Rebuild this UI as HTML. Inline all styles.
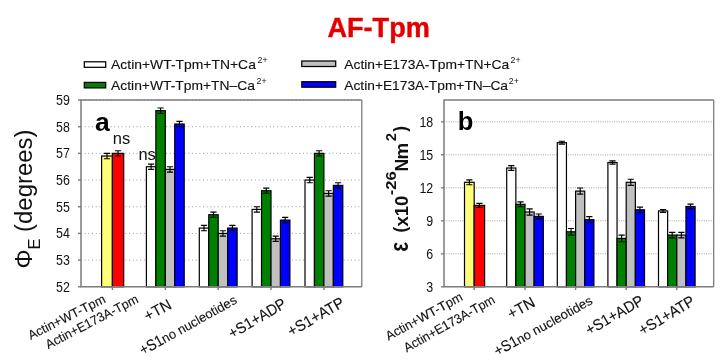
<!DOCTYPE html>
<html><head><meta charset="utf-8"><title>AF-Tpm</title>
<style>html,body{margin:0;padding:0;background:#fff}svg{display:block}text{font-family:'Liberation Sans', sans-serif;fill:#111}.m{stroke:#111;stroke-width:.13px}</style>
</head><body>
<svg width="725" height="362" viewBox="0 0 725 362">
<rect width="725" height="362" fill="#fff"/>
<text x="327.4" y="36.6" font-size="27" font-weight="bold" style="fill:#e40000;stroke:#e40000;stroke-width:.4px" textLength="102.5" lengthAdjust="spacingAndGlyphs">AF-Tpm</text>
<rect x="84.3" y="61.8" width="21.4" height="5.5" fill="#ffffff" stroke="#000" stroke-width="1.25"/>
<text class="m" x="111.1" y="69.0" font-size="12.8" textLength="144.8" lengthAdjust="spacingAndGlyphs">Actin+WT-Tpm+TN+Ca</text>
<text x="257.6" y="63.4" font-size="9" textLength="10" lengthAdjust="spacingAndGlyphs">2+</text>
<rect x="84.3" y="82.4" width="21.4" height="5.5" fill="#008000" stroke="#000" stroke-width="1.25"/>
<text class="m" x="111.1" y="89.8" font-size="12.8" textLength="143.8" lengthAdjust="spacingAndGlyphs">Actin+WT-Tpm+TN–Ca</text>
<text x="256.6" y="84.2" font-size="9" textLength="10" lengthAdjust="spacingAndGlyphs">2+</text>
<rect x="301.8" y="61.0" width="33.9" height="5.5" fill="#c0c0c0" stroke="#000" stroke-width="1.25"/>
<text class="m" x="344.3" y="69.0" font-size="12.8" textLength="165" lengthAdjust="spacingAndGlyphs">Actin+E173A-Tpm+TN+Ca</text>
<text x="510.6" y="63.4" font-size="9" textLength="10" lengthAdjust="spacingAndGlyphs">2+</text>
<rect x="301.8" y="81.7" width="33.9" height="5.5" fill="#0000ff" stroke="#000" stroke-width="1.25"/>
<text class="m" x="344.3" y="89.8" font-size="12.8" textLength="163.7" lengthAdjust="spacingAndGlyphs">Actin+E173A-Tpm+TN–Ca</text>
<text x="508.8" y="84.2" font-size="9" textLength="10" lengthAdjust="spacingAndGlyphs">2+</text>
<line x1="81" x2="361.8" y1="260.11" y2="260.11" stroke="#858585" stroke-width="0.9" stroke-dasharray="0.9 2.8"/>
<line x1="81" x2="361.8" y1="233.43" y2="233.43" stroke="#858585" stroke-width="0.9" stroke-dasharray="0.9 2.8"/>
<line x1="81" x2="361.8" y1="206.74" y2="206.74" stroke="#858585" stroke-width="0.9" stroke-dasharray="0.9 2.8"/>
<line x1="81" x2="361.8" y1="180.06" y2="180.06" stroke="#858585" stroke-width="0.9" stroke-dasharray="0.9 2.8"/>
<line x1="81" x2="361.8" y1="153.37" y2="153.37" stroke="#858585" stroke-width="0.9" stroke-dasharray="0.9 2.8"/>
<line x1="81" x2="361.8" y1="126.69" y2="126.69" stroke="#858585" stroke-width="0.9" stroke-dasharray="0.9 2.8"/>
<line x1="81" x2="361.8" y1="100.00" y2="100.00" stroke="#858585" stroke-width="0.9" stroke-dasharray="0.9 2.8"/>
<rect x="101.60" y="156.04" width="10.80" height="130.76" fill="#ffff78" stroke="#000" stroke-width="1.2"/>
<rect x="112.40" y="153.37" width="11.30" height="133.43" fill="#ff0000" stroke="#000" stroke-width="1.2"/>
<path d="M107.00 153.37V158.71M103.90 153.37H110.10M103.90 158.71H110.10" stroke="#000" stroke-width="1.15" fill="none"/>
<path d="M118.05 150.70V156.04M114.95 150.70H121.15M114.95 156.04H121.15" stroke="#000" stroke-width="1.15" fill="none"/>
<rect x="146.40" y="166.71" width="9.45" height="120.09" fill="#ffffff" stroke="#000" stroke-width="1.2"/>
<rect x="155.85" y="110.67" width="9.45" height="176.13" fill="#008000" stroke="#000" stroke-width="1.2"/>
<rect x="165.30" y="169.38" width="9.45" height="117.42" fill="#c0c0c0" stroke="#000" stroke-width="1.2"/>
<rect x="174.75" y="124.02" width="9.45" height="162.78" fill="#0000ff" stroke="#000" stroke-width="1.2"/>
<path d="M151.12 164.05V169.38M148.03 164.05H154.22M148.03 169.38H154.22" stroke="#000" stroke-width="1.15" fill="none"/>
<path d="M160.58 108.01V113.34M157.48 108.01H163.68M157.48 113.34H163.68" stroke="#000" stroke-width="1.15" fill="none"/>
<path d="M170.03 166.71V172.05M166.93 166.71H173.12M166.93 172.05H173.12" stroke="#000" stroke-width="1.15" fill="none"/>
<path d="M179.48 121.35V126.69M176.38 121.35H182.58M176.38 126.69H182.58" stroke="#000" stroke-width="1.15" fill="none"/>
<rect x="199.30" y="228.09" width="9.45" height="58.71" fill="#ffffff" stroke="#000" stroke-width="1.2"/>
<rect x="208.75" y="214.75" width="9.45" height="72.05" fill="#008000" stroke="#000" stroke-width="1.2"/>
<rect x="218.20" y="233.43" width="9.45" height="53.37" fill="#c0c0c0" stroke="#000" stroke-width="1.2"/>
<rect x="227.65" y="228.09" width="9.45" height="58.71" fill="#0000ff" stroke="#000" stroke-width="1.2"/>
<path d="M204.02 225.42V230.76M200.92 225.42H207.12M200.92 230.76H207.12" stroke="#000" stroke-width="1.15" fill="none"/>
<path d="M213.47 212.08V217.42M210.38 212.08H216.57M210.38 217.42H216.57" stroke="#000" stroke-width="1.15" fill="none"/>
<path d="M222.92 230.76V236.10M219.82 230.76H226.02M219.82 236.10H226.02" stroke="#000" stroke-width="1.15" fill="none"/>
<path d="M232.38 225.42V230.76M229.28 225.42H235.47M229.28 230.76H235.47" stroke="#000" stroke-width="1.15" fill="none"/>
<rect x="252.10" y="209.41" width="9.45" height="77.39" fill="#ffffff" stroke="#000" stroke-width="1.2"/>
<rect x="261.55" y="190.73" width="9.45" height="96.07" fill="#008000" stroke="#000" stroke-width="1.2"/>
<rect x="271.00" y="238.77" width="9.45" height="48.03" fill="#c0c0c0" stroke="#000" stroke-width="1.2"/>
<rect x="280.45" y="220.09" width="9.45" height="66.71" fill="#0000ff" stroke="#000" stroke-width="1.2"/>
<path d="M256.82 206.74V212.08M253.72 206.74H259.93M253.72 212.08H259.93" stroke="#000" stroke-width="1.15" fill="none"/>
<path d="M266.27 188.06V193.40M263.17 188.06H269.38M263.17 193.40H269.38" stroke="#000" stroke-width="1.15" fill="none"/>
<path d="M275.73 236.10V241.43M272.62 236.10H278.83M272.62 241.43H278.83" stroke="#000" stroke-width="1.15" fill="none"/>
<path d="M285.17 217.42V222.75M282.07 217.42H288.27M282.07 222.75H288.27" stroke="#000" stroke-width="1.15" fill="none"/>
<rect x="305.00" y="180.06" width="9.45" height="106.74" fill="#ffffff" stroke="#000" stroke-width="1.2"/>
<rect x="314.45" y="153.37" width="9.45" height="133.43" fill="#008000" stroke="#000" stroke-width="1.2"/>
<rect x="323.90" y="193.40" width="9.45" height="93.40" fill="#c0c0c0" stroke="#000" stroke-width="1.2"/>
<rect x="333.35" y="185.39" width="9.45" height="101.41" fill="#0000ff" stroke="#000" stroke-width="1.2"/>
<path d="M309.73 177.39V182.73M306.62 177.39H312.83M306.62 182.73H312.83" stroke="#000" stroke-width="1.15" fill="none"/>
<path d="M319.17 150.70V156.04M316.07 150.70H322.27M316.07 156.04H322.27" stroke="#000" stroke-width="1.15" fill="none"/>
<path d="M328.62 190.73V196.07M325.52 190.73H331.73M325.52 196.07H331.73" stroke="#000" stroke-width="1.15" fill="none"/>
<path d="M338.07 182.73V188.06M334.97 182.73H341.17M334.97 188.06H341.17" stroke="#000" stroke-width="1.15" fill="none"/>
<path d="M81 286.8V100H361.8" fill="none" stroke="#7c7c7c" stroke-width="1.5"/>
<path d="M80.25 286.8H361.8" fill="none" stroke="#7c7c7c" stroke-width="1.6"/>
<path d="M361.8 100V286.8" fill="none" stroke="#7c7c7c" stroke-width="1.3"/>
<line x1="78" x2="81" y1="286.80" y2="286.80" stroke="#7c7c7c" stroke-width="1.4"/>
<text x="69.8" y="291.70" font-size="14" text-anchor="end" textLength="13.8" lengthAdjust="spacingAndGlyphs">52</text>
<line x1="78" x2="81" y1="260.11" y2="260.11" stroke="#7c7c7c" stroke-width="1.4"/>
<text x="69.8" y="265.01" font-size="14" text-anchor="end" textLength="13.8" lengthAdjust="spacingAndGlyphs">53</text>
<line x1="78" x2="81" y1="233.43" y2="233.43" stroke="#7c7c7c" stroke-width="1.4"/>
<text x="69.8" y="238.33" font-size="14" text-anchor="end" textLength="13.8" lengthAdjust="spacingAndGlyphs">54</text>
<line x1="78" x2="81" y1="206.74" y2="206.74" stroke="#7c7c7c" stroke-width="1.4"/>
<text x="69.8" y="211.64" font-size="14" text-anchor="end" textLength="13.8" lengthAdjust="spacingAndGlyphs">55</text>
<line x1="78" x2="81" y1="180.06" y2="180.06" stroke="#7c7c7c" stroke-width="1.4"/>
<text x="69.8" y="184.96" font-size="14" text-anchor="end" textLength="13.8" lengthAdjust="spacingAndGlyphs">56</text>
<line x1="78" x2="81" y1="153.37" y2="153.37" stroke="#7c7c7c" stroke-width="1.4"/>
<text x="69.8" y="158.27" font-size="14" text-anchor="end" textLength="13.8" lengthAdjust="spacingAndGlyphs">57</text>
<line x1="78" x2="81" y1="126.69" y2="126.69" stroke="#7c7c7c" stroke-width="1.4"/>
<text x="69.8" y="131.59" font-size="14" text-anchor="end" textLength="13.8" lengthAdjust="spacingAndGlyphs">58</text>
<line x1="78" x2="81" y1="100.00" y2="100.00" stroke="#7c7c7c" stroke-width="1.4"/>
<text x="69.8" y="104.90" font-size="14" text-anchor="end" textLength="13.8" lengthAdjust="spacingAndGlyphs">59</text>
<line x1="112.40" x2="112.40" y1="286.8" y2="290.0" stroke="#7c7c7c" stroke-width="1.4"/>
<line x1="165.30" x2="165.30" y1="286.8" y2="290.0" stroke="#7c7c7c" stroke-width="1.4"/>
<line x1="218.20" x2="218.20" y1="286.8" y2="290.0" stroke="#7c7c7c" stroke-width="1.4"/>
<line x1="271.00" x2="271.00" y1="286.8" y2="290.0" stroke="#7c7c7c" stroke-width="1.4"/>
<line x1="323.90" x2="323.90" y1="286.8" y2="290.0" stroke="#7c7c7c" stroke-width="1.4"/>
<line x1="444" x2="713.7" y1="253.80" y2="253.80" stroke="#858585" stroke-width="0.9" stroke-dasharray="0.8 1.5"/>
<line x1="444" x2="713.7" y1="220.80" y2="220.80" stroke="#858585" stroke-width="0.9" stroke-dasharray="0.8 1.5"/>
<line x1="444" x2="713.7" y1="187.80" y2="187.80" stroke="#858585" stroke-width="0.9" stroke-dasharray="0.8 1.5"/>
<line x1="444" x2="713.7" y1="154.80" y2="154.80" stroke="#858585" stroke-width="0.9" stroke-dasharray="0.8 1.5"/>
<line x1="444" x2="713.7" y1="121.80" y2="121.80" stroke="#858585" stroke-width="0.9" stroke-dasharray="0.8 1.5"/>
<rect x="464.50" y="182.30" width="9.70" height="104.50" fill="#ffff78" stroke="#000" stroke-width="1.2"/>
<rect x="474.20" y="205.40" width="10.40" height="81.40" fill="#ff0000" stroke="#000" stroke-width="1.2"/>
<path d="M469.35 179.88V184.72M466.25 179.88H472.45M466.25 184.72H472.45" stroke="#000" stroke-width="1.15" fill="none"/>
<path d="M479.40 203.42V207.38M476.30 203.42H482.50M476.30 207.38H482.50" stroke="#000" stroke-width="1.15" fill="none"/>
<rect x="506.70" y="168.00" width="9.15" height="118.80" fill="#ffffff" stroke="#000" stroke-width="1.2"/>
<rect x="515.85" y="204.30" width="9.15" height="82.50" fill="#008000" stroke="#000" stroke-width="1.2"/>
<rect x="525.00" y="212.00" width="9.15" height="74.80" fill="#c0c0c0" stroke="#000" stroke-width="1.2"/>
<rect x="534.15" y="216.40" width="9.15" height="70.40" fill="#0000ff" stroke="#000" stroke-width="1.2"/>
<path d="M511.27 165.58V170.42M508.17 165.58H514.38M508.17 170.42H514.38" stroke="#000" stroke-width="1.15" fill="none"/>
<path d="M520.42 201.88V206.72M517.32 201.88H523.52M517.32 206.72H523.52" stroke="#000" stroke-width="1.15" fill="none"/>
<path d="M529.58 208.92V215.08M526.48 208.92H532.68M526.48 215.08H532.68" stroke="#000" stroke-width="1.15" fill="none"/>
<path d="M538.72 213.98V218.82M535.62 213.98H541.82M535.62 218.82H541.82" stroke="#000" stroke-width="1.15" fill="none"/>
<rect x="557.30" y="142.70" width="9.15" height="144.10" fill="#ffffff" stroke="#000" stroke-width="1.2"/>
<rect x="566.45" y="231.80" width="9.15" height="55.00" fill="#008000" stroke="#000" stroke-width="1.2"/>
<rect x="575.60" y="191.10" width="9.15" height="95.70" fill="#c0c0c0" stroke="#000" stroke-width="1.2"/>
<rect x="584.75" y="219.70" width="9.15" height="67.10" fill="#0000ff" stroke="#000" stroke-width="1.2"/>
<path d="M561.88 141.27V144.13M558.77 141.27H564.98M558.77 144.13H564.98" stroke="#000" stroke-width="1.15" fill="none"/>
<path d="M571.03 228.50V235.10M567.93 228.50H574.13M567.93 235.10H574.13" stroke="#000" stroke-width="1.15" fill="none"/>
<path d="M580.17 188.02V194.18M577.07 188.02H583.27M577.07 194.18H583.27" stroke="#000" stroke-width="1.15" fill="none"/>
<path d="M589.33 216.62V222.78M586.23 216.62H592.43M586.23 222.78H592.43" stroke="#000" stroke-width="1.15" fill="none"/>
<rect x="607.90" y="162.50" width="9.15" height="124.30" fill="#ffffff" stroke="#000" stroke-width="1.2"/>
<rect x="617.05" y="238.40" width="9.15" height="48.40" fill="#008000" stroke="#000" stroke-width="1.2"/>
<rect x="626.20" y="182.30" width="9.15" height="104.50" fill="#c0c0c0" stroke="#000" stroke-width="1.2"/>
<rect x="635.35" y="209.80" width="9.15" height="77.00" fill="#0000ff" stroke="#000" stroke-width="1.2"/>
<path d="M612.48 160.85V164.15M609.38 160.85H615.58M609.38 164.15H615.58" stroke="#000" stroke-width="1.15" fill="none"/>
<path d="M621.62 235.10V241.70M618.52 235.10H624.73M618.52 241.70H624.73" stroke="#000" stroke-width="1.15" fill="none"/>
<path d="M630.78 179.22V185.38M627.68 179.22H633.88M627.68 185.38H633.88" stroke="#000" stroke-width="1.15" fill="none"/>
<path d="M639.92 207.05V212.55M636.82 207.05H643.02M636.82 212.55H643.02" stroke="#000" stroke-width="1.15" fill="none"/>
<rect x="658.50" y="210.90" width="9.15" height="75.90" fill="#ffffff" stroke="#000" stroke-width="1.2"/>
<rect x="667.65" y="235.10" width="9.15" height="51.70" fill="#008000" stroke="#000" stroke-width="1.2"/>
<rect x="676.80" y="235.10" width="9.15" height="51.70" fill="#c0c0c0" stroke="#000" stroke-width="1.2"/>
<rect x="685.95" y="206.50" width="9.15" height="80.30" fill="#0000ff" stroke="#000" stroke-width="1.2"/>
<path d="M663.08 209.47V212.33M659.98 209.47H666.18M659.98 212.33H666.18" stroke="#000" stroke-width="1.15" fill="none"/>
<path d="M672.22 232.35V237.85M669.12 232.35H675.32M669.12 237.85H675.32" stroke="#000" stroke-width="1.15" fill="none"/>
<path d="M681.38 232.35V237.85M678.27 232.35H684.48M678.27 237.85H684.48" stroke="#000" stroke-width="1.15" fill="none"/>
<path d="M690.52 204.08V208.92M687.42 204.08H693.62M687.42 208.92H693.62" stroke="#000" stroke-width="1.15" fill="none"/>
<path d="M444 286.8V100H713.7" fill="none" stroke="#7c7c7c" stroke-width="1.5"/>
<path d="M443.25 286.8H713.7" fill="none" stroke="#7c7c7c" stroke-width="1.6"/>
<path d="M713.7 100V286.8" fill="none" stroke="#7c7c7c" stroke-width="1.3"/>
<line x1="441" x2="444" y1="286.80" y2="286.80" stroke="#7c7c7c" stroke-width="1.4"/>
<text x="433.2" y="291.70" font-size="14" text-anchor="end" textLength="6.9" lengthAdjust="spacingAndGlyphs">3</text>
<line x1="441" x2="444" y1="253.80" y2="253.80" stroke="#7c7c7c" stroke-width="1.4"/>
<text x="433.2" y="258.70" font-size="14" text-anchor="end" textLength="6.9" lengthAdjust="spacingAndGlyphs">6</text>
<line x1="441" x2="444" y1="220.80" y2="220.80" stroke="#7c7c7c" stroke-width="1.4"/>
<text x="433.2" y="225.70" font-size="14" text-anchor="end" textLength="6.9" lengthAdjust="spacingAndGlyphs">9</text>
<line x1="441" x2="444" y1="187.80" y2="187.80" stroke="#7c7c7c" stroke-width="1.4"/>
<text x="433.2" y="192.70" font-size="14" text-anchor="end" textLength="13.8" lengthAdjust="spacingAndGlyphs">12</text>
<line x1="441" x2="444" y1="154.80" y2="154.80" stroke="#7c7c7c" stroke-width="1.4"/>
<text x="433.2" y="159.70" font-size="14" text-anchor="end" textLength="13.8" lengthAdjust="spacingAndGlyphs">15</text>
<line x1="441" x2="444" y1="121.80" y2="121.80" stroke="#7c7c7c" stroke-width="1.4"/>
<text x="433.2" y="126.70" font-size="14" text-anchor="end" textLength="13.8" lengthAdjust="spacingAndGlyphs">18</text>
<line x1="474.20" x2="474.20" y1="286.8" y2="290.0" stroke="#7c7c7c" stroke-width="1.4"/>
<line x1="525.00" x2="525.00" y1="286.8" y2="290.0" stroke="#7c7c7c" stroke-width="1.4"/>
<line x1="575.60" x2="575.60" y1="286.8" y2="290.0" stroke="#7c7c7c" stroke-width="1.4"/>
<line x1="626.20" x2="626.20" y1="286.8" y2="290.0" stroke="#7c7c7c" stroke-width="1.4"/>
<line x1="676.80" x2="676.80" y1="286.8" y2="290.0" stroke="#7c7c7c" stroke-width="1.4"/>
<text x="95" y="130.5" font-size="26.5" font-weight="bold" style="fill:#000">a</text>
<text x="457.8" y="130.1" font-size="25" font-weight="bold" style="fill:#000" textLength="15.6" lengthAdjust="spacingAndGlyphs">b</text>
<text x="112.8" y="144.2" font-size="16.5">ns</text>
<text x="138.4" y="159.7" font-size="16.5">ns</text>
<g transform="translate(31.8 268.6) rotate(-90) scale(1 1.05)"><text x="0" y="0" font-size="22.5" textLength="139" lengthAdjust="spacingAndGlyphs">Φ<tspan font-size="15.5" dy="7.6">E</tspan><tspan dy="-7.6"> (degrees)</tspan></text></g>
<g transform="translate(408 251.8) rotate(-90) scale(1 1.1)" style="fill:#000"><text x="0" y="0" font-size="17.5" font-weight="bold" textLength="9.8" lengthAdjust="spacingAndGlyphs" transform="scale(1 1.3)">ε</text><text x="19.2" y="-1.8" font-size="17.5" font-weight="bold">(</text><text x="25.4" y="0" font-size="17.5" font-weight="bold" textLength="30.8" lengthAdjust="spacingAndGlyphs">x10</text><text x="56.6" y="-11.2" font-size="13.8" font-weight="bold" textLength="24" lengthAdjust="spacingAndGlyphs">-26</text><text x="80.2" y="0" font-size="17.5" font-weight="bold">N</text><text x="92.3" y="0" font-size="17.5" font-weight="bold" textLength="16.6" lengthAdjust="spacingAndGlyphs">m</text><text x="110.5" y="-11.2" font-size="13.8" font-weight="bold" textLength="8.2" lengthAdjust="spacingAndGlyphs">2</text><text x="120.0" y="-1.8" font-size="17.5" font-weight="bold">)</text></g>
<g transform="translate(106.4 302.0) rotate(-26.74665367357941)"><text class="m" x="-84.7" y="0" font-size="13" textLength="84.7" lengthAdjust="spacingAndGlyphs">Actin+WT-Tpm</text></g>
<g transform="translate(139.4 302.0) rotate(-27.363546927391692)"><text class="m" x="-102.7" y="0" font-size="13" textLength="102.7" lengthAdjust="spacingAndGlyphs">Actin+E173A-Tpm</text></g>
<g transform="translate(172.6 308.0) rotate(-28.191308373793103)"><text class="m" x="-28.4" y="0" font-size="15.5" textLength="28.4" lengthAdjust="spacingAndGlyphs">+TN</text></g>
<g transform="translate(237.8 302.7) rotate(-29.16225462730078)"><text class="m" x="-108.5" y="0" font-size="15.5" textLength="24.7" lengthAdjust="spacingAndGlyphs">+S1</text><text class="m" x="-83.8" y="0" font-size="13" textLength="83.8" lengthAdjust="spacingAndGlyphs">no nucleotides</text></g>
<g transform="translate(287.3 306.6) rotate(-30.501952081843815)"><text class="m" x="-63.8" y="0" font-size="15.5" textLength="63.8" lengthAdjust="spacingAndGlyphs">+S1+ADP</text></g>
<g transform="translate(345.6 305.7) rotate(-29.801665995409717)"><text class="m" x="-62.6" y="0" font-size="15.5" textLength="62.6" lengthAdjust="spacingAndGlyphs">+S1+ATP</text></g>
<g transform="translate(463.7 299.6) rotate(-28.62645067294968)"><text class="m" x="-85.8" y="0" font-size="13" textLength="85.8" lengthAdjust="spacingAndGlyphs">Actin+WT-Tpm</text></g>
<g transform="translate(495.9 302.3) rotate(-29.348593546144592)"><text class="m" x="-102.2" y="0" font-size="13" textLength="102.2" lengthAdjust="spacingAndGlyphs">Actin+E173A-Tpm</text></g>
<g transform="translate(536.3 305.6) rotate(-28.880570879447152)"><text class="m" x="-28.8" y="0" font-size="15.5" textLength="28.8" lengthAdjust="spacingAndGlyphs">+TN</text></g>
<g transform="translate(593.5 303.4) rotate(-28.948078204133974)"><text class="m" x="-109.7" y="0" font-size="15.5" textLength="25.0" lengthAdjust="spacingAndGlyphs">+S1</text><text class="m" x="-84.7" y="0" font-size="13" textLength="84.7" lengthAdjust="spacingAndGlyphs">no nucleotides</text></g>
<g transform="translate(644.8 303.6) rotate(-29.922129856063588)"><text class="m" x="-64.2" y="0" font-size="15.5" textLength="64.2" lengthAdjust="spacingAndGlyphs">+S1+ADP</text></g>
<g transform="translate(696.0 304.0) rotate(-30.67996027531524)"><text class="m" x="-62.3" y="0" font-size="15.5" textLength="62.3" lengthAdjust="spacingAndGlyphs">+S1+ATP</text></g>
</svg></body></html>
